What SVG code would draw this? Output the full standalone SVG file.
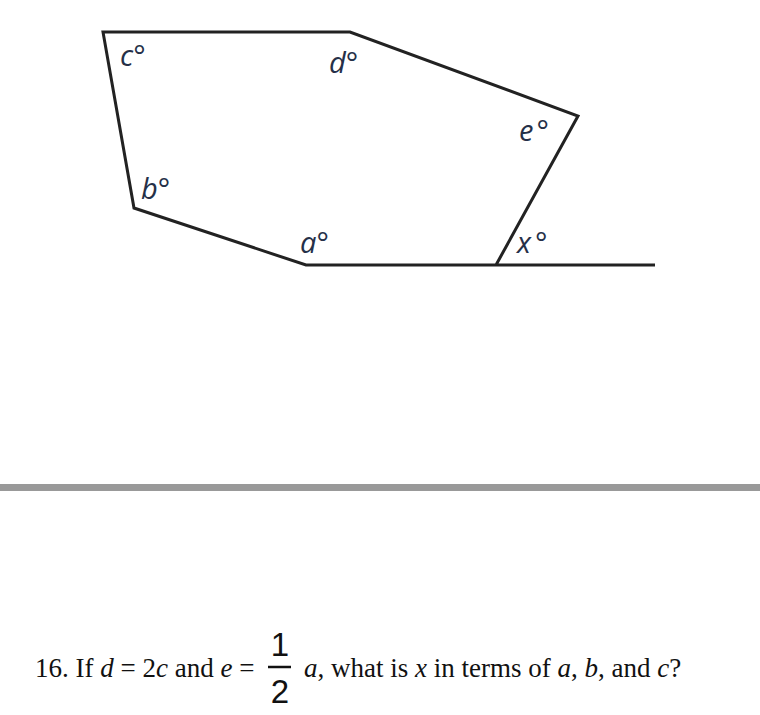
<svg xmlns="http://www.w3.org/2000/svg" width="760" height="715" viewBox="0 0 760 715">
<style>
.edge{fill:none;stroke:#222;stroke-width:3;stroke-linejoin:miter}
.lbl{font-family:"Open Sans","DejaVu Sans",sans-serif;font-style:italic;font-size:29px;fill:#253048}
.q{font-family:"Liberation Serif",serif;font-size:27px;fill:#111}
.qi{font-style:italic}
.frac{font-family:"Liberation Sans",sans-serif;font-size:33px;fill:#111}
</style>
<rect width="760" height="715" fill="#fff"/>
<g id="connectors">
<polyline class="edge" points="496,265 578,116 350,32 103,32 134,208 306,265 655,265"/>
</g>
<g id="labels">
<text class="lbl" x="120" y="66">c°</text>
<text class="lbl" x="329" y="73">d°</text>
<text class="lbl" x="519" y="141">e<tspan dx="3">°</tspan></text>
<text class="lbl" x="141" y="199">b°</text>
<text class="lbl" x="300" y="253">a°</text>
<text class="lbl" x="517" y="253">x<tspan dx="4">°</tspan></text>
</g>
<rect x="0" y="484" width="760" height="7" fill="#999"/>
<g id="question">
<text class="q" x="35" y="677">16. If <tspan class="qi">d</tspan> = 2<tspan class="qi">c</tspan> and <tspan class="qi">e</tspan> =</text>
<text class="frac" x="280" y="656" text-anchor="middle">1</text>
<line x1="268" y1="667" x2="291" y2="667" stroke="#111" stroke-width="2.5"/>
<text class="frac" x="280" y="703" text-anchor="middle">2</text>
<text class="q" x="304" y="677"><tspan class="qi">a</tspan>, what is <tspan class="qi">x</tspan> in terms of <tspan class="qi">a</tspan>, <tspan class="qi">b</tspan>, and <tspan class="qi">c</tspan>?</text>
</g>
</svg>
